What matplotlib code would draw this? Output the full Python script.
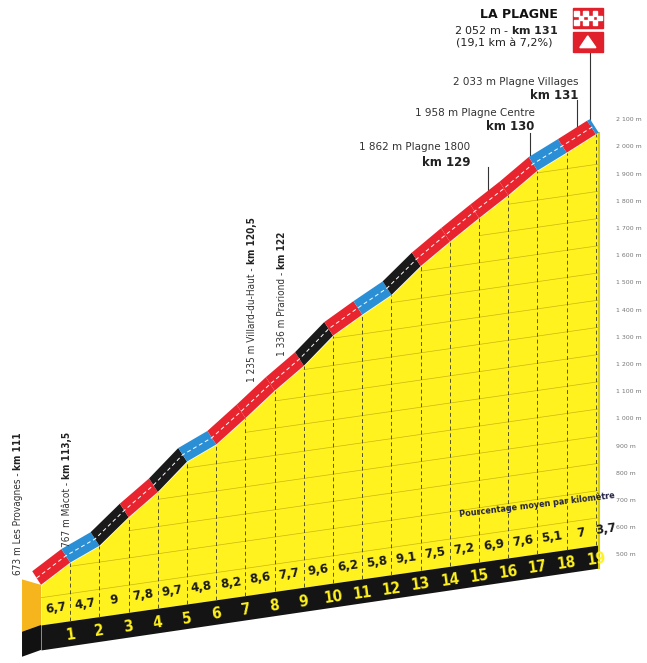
import matplotlib.pyplot as plt
import matplotlib.patches as mpatches
import numpy as np

# profile data
km = [0, 1, 2, 3, 4, 5, 6, 7, 8, 9, 10, 11, 12, 13, 14, 15, 16, 17, 18, 19, 19.1]
elev = [673, 740, 787, 877, 955, 1052, 1100, 1182, 1268, 1345, 1441, 1503,
        1561, 1652, 1727, 1799, 1868, 1944, 1995, 2048, 2052]
pct = [6.7, 4.7, 9, 7.8, 9.7, 4.8, 8.2, 8.6, 7.7, 9.6, 6.2, 5.8, 9.1, 7.5,
       7.2, 6.9, 7.6, 5.1, 7, 3.7]
km_labels = [str(i) for i in range(1, 20)]
alt_ticks = list(range(500, 2101, 100))

side_labels = [
    (-0.8, 426, "673 m Les Provagnes - ", "km 111"),
    (0.9, 529, "767 m Mâcot - ", "km 113,5"),
    (7.23, 1136, "1 235 m Villard-du-Haut - ", "km 120,5"),
    (8.26, 1232, "1 336 m Prariond - ", "km 122"),
]
# x, name y, km y, pointer x, pointer from, pointer to
top_labels = [
    (14.7, 2000, 1941, "1 862 m Plagne 1800", "km 129", 15.3, 1926, 1842),
    (16.9, 2125, 2074, "1 958 m Plagne Centre", "km 130", 16.75, 2051, 1970),
    (18.4, 2239, 2188, "2 033 m Plagne Villages", "km 131", 18.35, 2173, 2070),
]

SKEW = 14.8      # visual drop (m) per km before the summit
END = 19.1
NARROW = "DejaVu Sans"


def vis(k, e):
    return np.asarray(e) - SKEW * (END - np.asarray(k))


def base_top(k):
    return 243 + (537 - 243) * np.asarray(k) / END


def base_bot(k):
    return 151 + (452 - 151) * np.asarray(k) / END


fig = plt.figure(figsize=(6.47, 6.63), dpi=100)
ax = fig.add_axes([0, 0, 1, 1])
ax.set_xlim(-1.404, 20.75)
ax.set_ylim(103, 2540)
ax.axis("off")

kk = np.array(km, dtype=float)
top = vis(kk, elev)

# yellow body
ax.fill_between(kk, base_top(kk), top, color="#fff21f", lw=0, zorder=1)
# left face
face_x = [-0.65, 0, 0, -0.65]
face_y = [base_top(0) - 25, base_top(0), top[0], top[0] + 20]
ax.add_patch(mpatches.Polygon(list(zip(face_x, face_y)), color="#f6b51c", lw=0, zorder=1))
ax.add_patch(mpatches.Polygon([(-0.65, base_bot(0) - 25), (0, base_bot(0)),
                               (0, base_top(0)), (-0.65, base_top(0) - 25)],
                              color="#111111", lw=0, zorder=1))
# black strip
ax.fill_between(kk, base_bot(kk), base_top(kk), color="#141414", lw=0, zorder=2)

# grid lines on the yellow
for n in range(1, 17):
    gy = base_top(kk) + n * 100
    gy = np.where(gy < top, gy, np.nan)
    ax.plot(kk, gy, color="#c8b810", lw=0.5, zorder=2)
for k, e in zip(km[1:-1], elev[1:-1]):
    ax.plot([k, k], [base_top(k), vis(k, e)], color="#555522", lw=0.7,
            ls=(0, (4, 3)), zorder=2)
ax.plot([END, END], [base_bot(END), top[-1]], color="#d9cf00", lw=1.5, zorder=2)

# coloured road band
for i in range(len(km) - 1):
    p = pct[i]
    c = "#2b8fd6" if p < 6 else ("#1a1a1a" if p >= 9 else "#e8252e")
    xs = np.array([km[i], km[i + 1]])
    ys = top[i:i + 2]
    ax.add_patch(mpatches.Polygon([(xs[0], ys[0]), (xs[1], ys[1]),
                                   (xs[1] - 0.3, ys[1] + 50), (xs[0] - 0.3, ys[0] + 50)],
                                  color=c, lw=0, zorder=3))
ax.plot(kk - 0.15, top + 25, color="white", lw=0.7, ls=(0, (4, 3)), zorder=4)

# percentages and km numbers
for i, p in enumerate(pct):
    mid = km[i] + 0.5 if i < 19 else 19.35
    ax.text(mid, base_top(mid) + 55, f"{p:g}".replace(".", ","), ha="center",
            va="center", fontsize=9.5, fontweight="bold", rotation=8,
            family=NARROW, stretch="condensed", color="#1a1a1a", zorder=5)
for i, lab in enumerate(km_labels):
    k = i + 1
    ax.text(k, (base_top(k) + base_bot(k)) / 2 - 8, lab, ha="center", va="center",
            fontsize=11, fontweight="bold", rotation=8, family=NARROW,
            stretch="condensed", color="#fff21f", zorder=5)
ax.text(17.0, base_top(17) + 180, "Pourcentage moyen par kilomètre", ha="center",
        va="center", fontsize=6.5, fontweight="bold", rotation=7,
        family=NARROW, stretch="condensed", color="#222244", zorder=5)

# altitude scale
for a in alt_ticks:
    ax.text(19.7, a, f"{a:,} m".replace(",", " "), fontsize=4.5, color="#777777",
            va="center", ha="left")

# vertical place labels
for x, y, name, kmtxt in side_labels:
    t = ax.text(x, y, name, rotation=90, fontsize=7.2, color="#333333",
                family=NARROW, stretch="condensed", ha="center", va="bottom", zorder=6)
    ax.annotate(kmtxt, xy=(0.5, 1), xycoords=t, rotation=90, fontsize=7.2,
                family=NARROW, stretch="condensed", fontweight="bold", color="#222222",
                ha="center", va="bottom", zorder=6)

# top labels with pointers
for x, ny, ky, name, kmtxt, px, p0, p1 in top_labels:
    ax.text(x, ny, name, ha="right", va="center", fontsize=7.5, color="#333333")
    ax.text(x, ky, kmtxt, ha="right", va="center", fontsize=8.5,
            fontweight="bold", color="#222222")
    ax.plot([px, px], [p1, p0], color="#333333", lw=0.8)

# summit
ax.plot([18.8, 18.8], [2062, 2349], color="#333333", lw=0.8)
ax.text(17.7, 2485, "LA PLAGNE", ha="right", va="center", fontsize=9,
        fontweight="bold", color="#111111")
ax.text(17.7, 2430, "2 052 m - $\\bf{km\\ 131}$", ha="right", va="center",
        fontsize=8, color="#222222")
ax.text(17.5, 2379, "(19,1 km à 7,2%)", ha="right", va="center", fontsize=8,
        color="#222222")
ax.add_patch(mpatches.Rectangle((18.2, 2437), 1.05, 74, color="#e0202a", zorder=5))
for i in range(6):
    for j in range(3):
        if (i + j) % 2 == 0:
            ax.add_patch(mpatches.Rectangle((18.25 + i * 0.16, 2447 + j * 18), 0.16, 18,
                                            color="white", zorder=6))
ax.add_patch(mpatches.Rectangle((18.2, 2349), 1.05, 74, color="#e0202a", zorder=5))
ax.add_patch(mpatches.Polygon([(18.45, 2365), (18.72, 2408), (19.0, 2365)],
                              color="white", zorder=6))

fig.savefig("out.png", dpi=100)
